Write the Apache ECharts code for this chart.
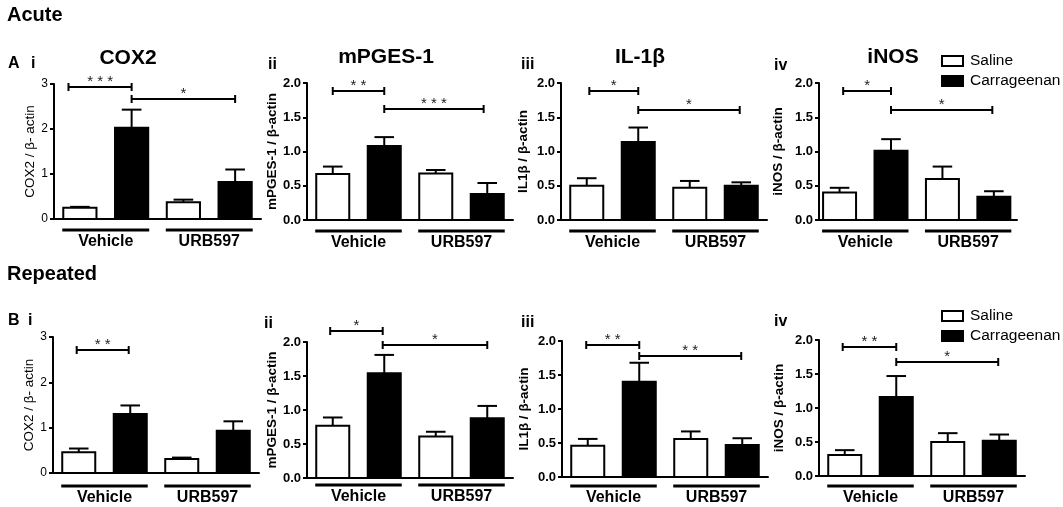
<!DOCTYPE html>
<html><head><meta charset="utf-8">
<script src="https://cdn.jsdelivr.net/npm/echarts@6/dist/echarts.min.js"></script>
<style>html,body{margin:0;padding:0;background:#fff}#c{width:1063px;height:507px}</style>
</head><body><div id="c"></div>
<script>
// ---------------- data ----------------
const groups = ['Vehicle', 'URB597'];
const treatments = ['Saline', 'Carrageenan'];
const genes = ['COX2', 'mPGES-1', 'IL-1β', 'iNOS'];
const yNames = ['COX2 / β- actin', 'mPGES-1 / β-actin', 'IL1β / β-actin', 'iNOS / β-actin'];
const panelLabels = ['i', 'ii', 'iii', 'iv'];
const sections = ['Acute', 'Repeated'];
const ticksCOX2 = [0, 1, 2, 3];
const ticksOther = [0.0, 0.5, 1.0, 1.5, 2.0];

// bar order: Saline/Vehicle, Carrageenan/Vehicle, Saline/URB597, Carrageenan/URB597
const acuteCOX2 = [0.25, 2.03, 0.37, 0.82];
const acuteCOX2Sem = [0.02, 0.40, 0.06, 0.28];
const acuteMPGES = [0.67, 1.08, 0.68, 0.38];
const acuteMPGESSem = [0.11, 0.13, 0.05, 0.16];
const acuteIL1b = [0.50, 1.14, 0.47, 0.50];
const acuteIL1bSem = [0.11, 0.21, 0.10, 0.05];
const acuteINOS = [0.40, 1.01, 0.60, 0.34];
const acuteINOSSem = [0.07, 0.17, 0.18, 0.08];

const repCOX2 = [0.46, 1.30, 0.31, 0.93];
const repCOX2Sem = [0.08, 0.19, 0.03, 0.21];
const repMPGES = [0.77, 1.54, 0.61, 0.88];
const repMPGESSem = [0.12, 0.27, 0.07, 0.18];
const repIL1b = [0.46, 1.40, 0.56, 0.47];
const repIL1bSem = [0.10, 0.28, 0.11, 0.10];
const repINOS = [0.31, 1.16, 0.50, 0.52];
const repINOSSem = [0.07, 0.31, 0.13, 0.09];

// significance brackets: [from bar, to bar, height, label]
const acuteCOX2Sig = [[-0.22, 1, 2.93, '***'], [1, 3, 2.67, '*']];
const acuteMPGESSig = [[0, 1, 1.88, '**'], [1, 2.93, 1.62, '***']];
const acuteIL1bSig = [[0.05, 1, 1.88, '*'], [1, 2.97, 1.60, '*']];
const acuteINOSSig = [[0.07, 1, 1.88, '*'], [1, 2.97, 1.61, '*']];
const repCOX2Sig = [[-0.04, 0.97, 2.72, '**']];
const repMPGESSig = [[-0.05, 0.97, 2.16, '*'], [0.97, 3, 1.95, '*']];
const repIL1bSig = [[-0.03, 1, 1.94, '**'], [1, 2.98, 1.78, '**']];
const repINOSSig = [[-0.04, 1, 1.89, '**'], [1, 2.98, 1.68, '*']];

// group underline spans (bar index units)
const groupSpans = [[-0.34, 1.34], [1.66, 3.34]];

// ---------------- layout ----------------
const FONT = "Arial, 'Liberation Sans', Helvetica, sans-serif";
const layout = [
  {left: 54, top: 84, width: 207, height: 135, xMin: -0.5, xMax: 3.5, cox: true, nameGap: 9, groupOff: 11},
  {left: 307, top: 83, width: 206, height: 137, xMin: -0.5, xMax: 3.5, cox: false, nameGap: 27, groupOff: 11},
  {left: 561, top: 83, width: 206, height: 137, xMin: -0.5, xMax: 3.5, cox: false, nameGap: 31, groupOff: 11},
  {left: 819, top: 83, width: 198, height: 137, xMin: -0.4, xMax: 3.45, cox: false, nameGap: 34, groupOff: 11},
  {left: 53, top: 337, width: 206, height: 136, xMin: -0.5, xMax: 3.5, cox: true, nameGap: 8, groupOff: 13},
  {left: 307, top: 342, width: 206, height: 136, xMin: -0.5, xMax: 3.5, cox: false, nameGap: 28, groupOff: 7},
  {left: 562, top: 341, width: 206, height: 136, xMin: -0.5, xMax: 3.5, cox: false, nameGap: 31, groupOff: 9},
  {left: 819, top: 340, width: 206, height: 136, xMin: -0.5, xMax: 3.5, cox: false, nameGap: 33, groupOff: 10}
];
const panelData = [
  [acuteCOX2, acuteCOX2Sem, acuteCOX2Sig, 0],
  [acuteMPGES, acuteMPGESSem, acuteMPGESSig, 1],
  [acuteIL1b, acuteIL1bSem, acuteIL1bSig, 2],
  [acuteINOS, acuteINOSSem, acuteINOSSig, 3],
  [repCOX2, repCOX2Sem, repCOX2Sig, 0],
  [repMPGES, repMPGESSem, repMPGESSig, 1],
  [repIL1b, repIL1bSem, repIL1bSig, 2],
  [repINOS, repINOSSem, repINOSSig, 3]
];

const BAR_W = 0.68;
const CAP_W = 0.38;

function barRender(fill) {
  return function (params, api) {
    const x = api.value(0), v = api.value(1);
    const p0 = api.coord([x, 0]);
    const p1 = api.coord([x, v]);
    const w = api.size([BAR_W, 0])[0];
    return {
      type: 'rect',
      shape: {x: p0[0] - w / 2 + 1, y: p1[1], width: w - 2, height: p0[1] - p1[1]},
      style: {fill: fill, stroke: '#000', lineWidth: 2}
    };
  };
}
function errRender(params, api) {
  const x = api.value(0), m = api.value(1), t = api.value(2);
  const pm = api.coord([x, m]);
  const pt = api.coord([x, t]);
  const cw = api.size([CAP_W, 0])[0];
  return {
    type: 'group',
    children: [
      {type: 'line', shape: {x1: pm[0], y1: pm[1], x2: pt[0], y2: pt[1]}, style: {stroke: '#000', lineWidth: 2}},
      {type: 'line', shape: {x1: pt[0] - cw / 2, y1: pt[1], x2: pt[0] + cw / 2, y2: pt[1]}, style: {stroke: '#000', lineWidth: 2}}
    ]
  };
}
function sigRender(sig) {
  return function (params, api) {
    const b = sig[params.dataIndex];
    const a = api.coord([b[0], b[2]]);
    const c = api.coord([b[1], b[2]]);
    const y = Math.round(a[1]);
    return {
      type: 'group',
      children: [
        {type: 'line', shape: {x1: a[0], y1: y, x2: c[0], y2: y}, style: {stroke: '#000', lineWidth: 2}},
        {type: 'line', shape: {x1: a[0], y1: y - 4, x2: a[0], y2: y + 4}, style: {stroke: '#000', lineWidth: 2}},
        {type: 'line', shape: {x1: c[0], y1: y - 4, x2: c[0], y2: y + 4}, style: {stroke: '#000', lineWidth: 2}},
        {type: 'text', style: {text: b[3].split('').join(' '), x: (a[0] + c[0]) / 2, y: y + 2, align: 'center', verticalAlign: 'bottom',
          font: '15px ' + FONT, fill: '#222'}}
      ]
    };
  };
}
function groupRender(off) {
  return function (params, api) {
    const s = groupSpans[params.dataIndex];
    const a = api.coord([s[0], 0]);
    const c = api.coord([s[1], 0]);
    const y = a[1] + off;
    return {
      type: 'group',
      children: [
        {type: 'line', shape: {x1: a[0], y1: y, x2: c[0], y2: y}, style: {stroke: '#000', lineWidth: 3}},
        {type: 'text', style: {text: groups[params.dataIndex], x: (a[0] + c[0]) / 2, y: y + 4, align: 'center',
          verticalAlign: 'top', font: 'bold 16px ' + FONT, fill: '#000'}}
      ]
    };
  };
}

const grids = [], xAxes = [], yAxes = [], series = [];
layout.forEach(function (L, i) {
  const d = panelData[i];
  const mean = d[0], sem = d[1], sig = d[2], gi = d[3];
  const ticks = L.cox ? ticksCOX2 : ticksOther;
  grids.push({left: L.left, top: L.top, width: L.width, height: L.height, containLabel: false});
  xAxes.push({type: 'value', gridIndex: i, min: L.xMin, max: L.xMax,
    axisLine: {show: true, onZero: false, lineStyle: {color: '#000', width: 2}},
    axisTick: {show: false}, axisLabel: {show: false}, splitLine: {show: false}});
  yAxes.push({type: 'value', gridIndex: i, min: ticks[0], max: ticks[ticks.length - 1],
    interval: ticks[1] - ticks[0],
    name: yNames[gi], nameLocation: 'middle', nameRotate: 90, nameGap: L.nameGap,
    nameTextStyle: {fontFamily: FONT, fontSize: 13.5, fontWeight: L.cox ? 'normal' : 'bold', color: '#000'},
    axisLine: {show: true, onZero: false, lineStyle: {color: '#000', width: 2}},
    axisTick: {show: true, length: 4, inside: false, lineStyle: {color: '#000', width: 2}},
    axisLabel: {margin: 6, fontFamily: FONT, fontSize: L.cox ? 12 : 13, fontWeight: L.cox ? 'normal' : 'bold', color: '#000',
      formatter: function (v) { return L.cox ? String(v) : v.toFixed(1); }},
    splitLine: {show: false}});
  series.push({type: 'custom', name: treatments[0], xAxisIndex: i, yAxisIndex: i, clip: false, z: 2,
    itemStyle: {color: '#fff', borderColor: '#000', borderWidth: 2},
    renderItem: barRender('#fff'), data: [[0, mean[0]], [2, mean[2]]]});
  series.push({type: 'custom', name: treatments[1], xAxisIndex: i, yAxisIndex: i, clip: false, z: 2,
    itemStyle: {color: '#000'},
    renderItem: barRender('#000'), data: [[1, mean[1]], [3, mean[3]]]});
  series.push({type: 'custom', name: 'err' + i, xAxisIndex: i, yAxisIndex: i, clip: false, z: 3,
    renderItem: errRender, data: mean.map(function (m, k) { return [k, m, m + sem[k]]; })});
  series.push({type: 'custom', name: 'sig' + i, xAxisIndex: i, yAxisIndex: i, clip: false, z: 3,
    renderItem: sigRender(sig), data: sig.map(function (b) { return [(b[0] + b[1]) / 2, b[2]]; })});
  series.push({type: 'custom', name: 'grp' + i, xAxisIndex: i, yAxisIndex: i, clip: false, z: 3,
    renderItem: groupRender(L.groupOff), data: groupSpans.map(function (s) { return [(s[0] + s[1]) / 2, 0]; })});
});

const legendData = [
  {name: treatments[0], itemStyle: {color: '#fff', borderColor: '#000', borderWidth: 2}},
  {name: treatments[1], itemStyle: {color: '#000', borderColor: '#000', borderWidth: 2}}
];
const legendBase = {orient: 'vertical', left: 936, icon: 'rect', itemWidth: 21, itemHeight: 10, itemGap: 4,
  selectedMode: false, data: legendData, textStyle: {fontFamily: FONT, fontSize: 15.5, color: '#000', padding: [0, 0, 0, 2]}};

function txt(text, x, y, size, weight, align) {
  return {type: 'text', x: x, y: y, style: {text: text, font: weight + ' ' + size + 'px ' + FONT, fill: '#000',
    align: align || 'left', verticalAlign: 'middle'}};
}
const graphics = [
  txt(sections[0], 7, 15, 20, 'bold'),
  txt(sections[1], 7, 274, 20, 'bold'),
  txt('A', 8, 64, 16, 'bold'), txt(panelLabels[0], 31, 64, 16, 'bold'),
  txt(panelLabels[1], 268, 65, 16, 'bold'),
  txt(panelLabels[2], 521, 65, 16, 'bold'),
  txt(panelLabels[3], 774, 66, 16, 'bold'),
  txt('B', 8, 321, 16, 'bold'), txt(panelLabels[0], 28, 321, 16, 'bold'),
  txt(panelLabels[1], 264, 324, 16, 'bold'),
  txt(panelLabels[2], 521, 323, 16, 'bold'),
  txt(panelLabels[3], 774, 322, 16, 'bold'),
  txt(genes[0], 128, 58, 21, 'bold', 'center'),
  txt(genes[1], 386, 57, 21, 'bold', 'center'),
  txt(genes[2], 640, 57, 21, 'bold', 'center'),
  txt(genes[3], 893, 57, 21, 'bold', 'center')
];

const chart = echarts.init(document.getElementById('c'), null, {renderer: 'canvas'});
chart.setOption({
  animation: false,
  backgroundColor: '#fff',
  grid: grids, xAxis: xAxes, yAxis: yAxes, series: series,
  legend: [Object.assign({top: 48}, legendBase), Object.assign({top: 303}, legendBase)],
  graphic: graphics
});
</script></body></html>
